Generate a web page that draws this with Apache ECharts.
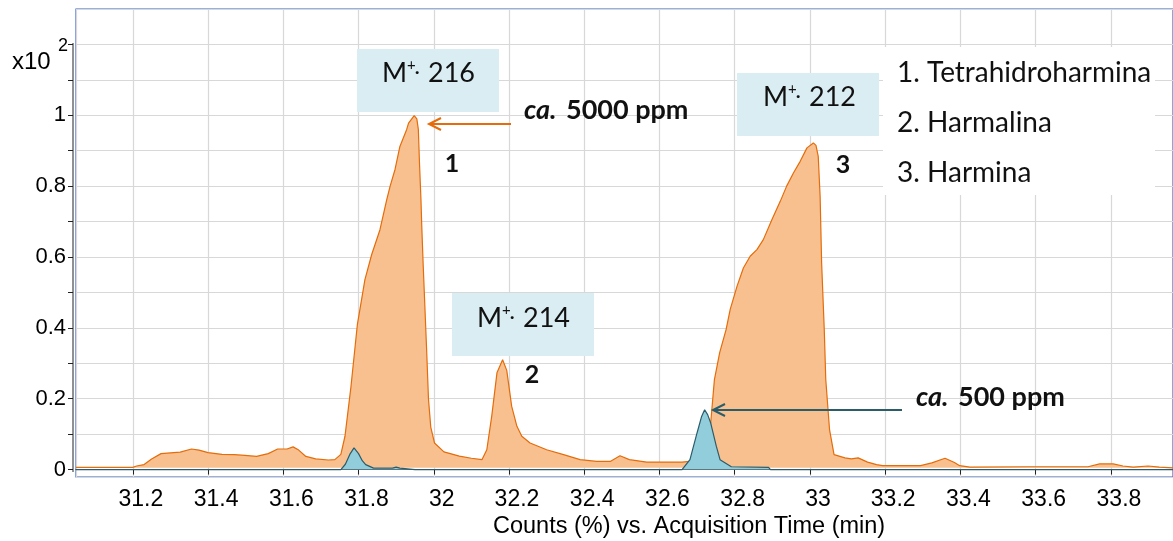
<!DOCTYPE html>
<html><head><meta charset="utf-8">
<script src="https://cdn.jsdelivr.net/npm/echarts@6/dist/echarts.min.js"></script>
<style>html,body{margin:0;padding:0;background:#fff}#c{width:1173px;height:541px}</style>
</head><body><div id="c"></div>
<script>
// ---- data (Counts x10^2 vs acquisition time, min) ----
const orangeTime = [31.049,31.20,31.21,31.23,31.25,31.275,31.30,31.326,31.356,31.376,31.40,31.437,31.47,31.498,31.529,31.56,31.585,31.61,31.626,31.641,31.66,31.686,31.72,31.737,31.753,31.764,31.78,31.797,31.817,31.835,31.857,31.875,31.884,31.897,31.91,31.928,31.933,31.948,31.955,31.959,31.962,31.966,31.968,31.972,31.981,31.986,31.992,32.002,32.027,32.068,32.10,32.128,32.141,32.154,32.168,32.183,32.194,32.207,32.221,32.234,32.256,32.30,32.345,32.389,32.433,32.469,32.495,32.52,32.566,32.60,32.66,32.70,32.72,32.73,32.736,32.746,32.76,32.777,32.788,32.806,32.823,32.841,32.859,32.876,32.899,32.921,32.938,32.956,32.974,32.992,33.009,33.016,33.022,33.027,33.031,33.038,33.042,33.052,33.064,33.093,33.11,33.128,33.153,33.177,33.193,33.294,33.324,33.359,33.384,33.398,33.425,33.584,33.739,33.77,33.806,33.832,33.859,33.899,33.929,33.965];
const orangeValue = [0.006,0.006,0.010,0.014,0.030,0.045,0.047,0.049,0.058,0.055,0.048,0.043,0.042,0.040,0.037,0.045,0.058,0.058,0.064,0.055,0.037,0.030,0.027,0.028,0.043,0.094,0.235,0.41,0.536,0.607,0.677,0.762,0.80,0.847,0.912,0.96,0.978,0.999,0.99,0.96,0.866,0.76,0.69,0.574,0.339,0.198,0.12,0.075,0.050,0.038,0.032,0.028,0.056,0.150,0.273,0.31,0.28,0.179,0.122,0.094,0.075,0.056,0.042,0.028,0.023,0.023,0.039,0.028,0.021,0.021,0.021,0.025,0.035,0.06,0.13,0.254,0.33,0.395,0.452,0.517,0.569,0.602,0.621,0.649,0.706,0.757,0.80,0.837,0.870,0.908,0.922,0.915,0.884,0.771,0.583,0.395,0.254,0.113,0.042,0.033,0.030,0.033,0.021,0.014,0.011,0.011,0.019,0.032,0.020,0.011,0.007,0.008,0.008,0.016,0.016,0.010,0.007,0.010,0.007,0.005];
const blueTime = [31.049,31.753,31.765,31.778,31.788,31.80,31.81,31.819,31.84,31.89,31.90,31.91,31.95,32.66,32.681,32.70,32.712,32.72,32.728,32.736,32.751,32.761,32.791,32.89,32.895,33.965];
const blueValue = [0,0,0.015,0.045,0.061,0.045,0.025,0.014,0.004,0.004,0.007,0.004,0,0,0.028,0.104,0.15,0.169,0.155,0.132,0.066,0.028,0.008,0.006,0,0];
const yTickLabels = [0,0.2,0.4,0.6,0.8,1];
const xTickLabels = [31.2,31.4,31.6,31.8,32,32.2,32.4,32.6,32.8,33,33.2,33.4,33.6,33.8];
const compounds = ['1. Tetrahidroharmina','2. Harmalina','3. Harmina'];
const ions = ['216','214','212'];
const peakNumbers = ['1','2','3'];
const conc = ['5000 ppm','500 ppm'];

const pairs = (t, v) => t.map((x, i) => [x, v[i]]);
const near = (v, arr) => arr.some(a => Math.abs(a - v) < 1e-6);
const fmt = v => String(parseFloat(v.toFixed(1)));

const chart = echarts.init(document.getElementById('c'), null, {renderer: 'canvas'});
const CAL = 'Lato';
const ARIAL = 'Liberation Sans';
const ORANGE = '#e46c0a', TEAL = '#2b5c6a', BOX = '#daedf3';

function ionLabel(x, y, num) {
  return [
    {type: 'text', z: 20, style: {text: 'M', x: x, y: y, font: '27px ' + CAL, fill: '#111', align: 'left', verticalAlign: 'middle'}},
    {type: 'text', z: 20, style: {text: '+', x: x + 25, y: y - 8, font: '15px ' + CAL, fill: '#111', align: 'left', verticalAlign: 'middle'}},
    {type: 'text', z: 20, style: {text: '·', x: x + 33, y: y - 1, font: 'bold 16px ' + CAL, fill: '#111', align: 'left', verticalAlign: 'middle'}},
    {type: 'text', z: 20, style: {text: num, x: x + 46, y: y, font: '27px ' + CAL, fill: '#111', align: 'left', verticalAlign: 'middle'}}
  ];
}
function arrow(x1, x2, y, color) {
  return [
    {type: 'line', z: 20, shape: {x1: x1, y1: y, x2: x2 + 1, y2: y}, style: {stroke: color, lineWidth: 2}},
    {type: 'polyline', z: 20, shape: {points: [[x2 + 12, y - 6], [x2, y], [x2 + 12, y + 6]]}, style: {stroke: color, lineWidth: 2, fill: null}}
  ];
}

const graphics = [].concat(
  // y-axis line (only up to 1.2)
  [{type: 'line', z: 5, shape: {x1: 73, y1: 43, x2: 73, y2: 472}, style: {stroke: '#222', lineWidth: 1}}],
  // x10^2
  [{type: 'text', z: 20, style: {text: 'x10', x: 12, y: 62, font: '24px ' + ARIAL, fill: '#000', align: 'left', verticalAlign: 'middle'}},
   {type: 'text', z: 20, style: {text: '2', x: 58, y: 46, font: '18px ' + ARIAL, fill: '#000', align: 'left', verticalAlign: 'middle'}}],
  // legend box
  [{type: 'rect', z: 10, shape: {x: 883, y: 47, width: 272, height: 148}, style: {fill: '#fff'}}],
  compounds.map((c, i) => ({type: 'text', z: 20, style: {text: c, x: 897, y: 73 + i * 50, font: '28px ' + CAL, fill: '#111', align: 'left', verticalAlign: 'middle'}})),
  // ion boxes
  [{type: 'rect', z: 10, shape: {x: 357, y: 49, width: 142, height: 63}, style: {fill: BOX}},
   {type: 'rect', z: 10, shape: {x: 452, y: 293, width: 142, height: 63}, style: {fill: BOX}},
   {type: 'rect', z: 10, shape: {x: 737, y: 73, width: 142, height: 63}, style: {fill: BOX}}],
  ionLabel(382, 73, ions[0]),
  ionLabel(477, 318, ions[1]),
  ionLabel(763, 97, ions[2]),
  // peak numbers
  [{type: 'text', z: 20, style: {text: peakNumbers[0], x: 452, y: 164, font: 'bold 25px ' + CAL, fill: '#111', align: 'center', verticalAlign: 'middle'}},
   {type: 'text', z: 20, style: {text: peakNumbers[1], x: 532, y: 375, font: 'bold 25px ' + CAL, fill: '#111', align: 'center', verticalAlign: 'middle'}},
   {type: 'text', z: 20, style: {text: peakNumbers[2], x: 843, y: 165, font: 'bold 25px ' + CAL, fill: '#111', align: 'center', verticalAlign: 'middle'}}],
  // concentrations
  [{type: 'text', z: 20, style: {text: 'ca.', x: 524, y: 110, font: 'italic bold 27px ' + CAL, fill: '#111', align: 'left', verticalAlign: 'middle'}},
   {type: 'text', z: 20, style: {text: conc[0], x: 566, y: 110, font: 'bold 27px ' + CAL, fill: '#111', align: 'left', verticalAlign: 'middle'}},
   {type: 'text', z: 20, style: {text: 'ca.', x: 916, y: 397, font: 'italic bold 27px ' + CAL, fill: '#111', align: 'left', verticalAlign: 'middle'}},
   {type: 'text', z: 20, style: {text: conc[1], x: 958, y: 397, font: 'bold 27px ' + CAL, fill: '#111', align: 'left', verticalAlign: 'middle'}}],
  arrow(511, 429, 124, ORANGE),
  arrow(902, 713, 410, TEAL),
  // x-axis title
  [{type: 'text', z: 20, style: {text: 'Counts (%) vs. Acquisition Time (min)', x: 493, y: 527, font: '23.5px ' + ARIAL, fill: '#000', align: 'left', verticalAlign: 'middle'}}]
);

chart.setOption({
  animation: false,
  backgroundColor: '#fff',
  grid: {left: 76, right: 0, top: 9, bottom: 64, show: true, borderColor: '#2f63c9', borderWidth: 1.2, backgroundColor: 'transparent'},
  xAxis: {
    type: 'value', min: 31.049, max: 33.965, minInterval: 0.2, maxInterval: 0.2, offset: 2,
    axisLine: {show: true, lineStyle: {color: '#222', width: 1}},
    axisTick: {show: true, length: 5, lineStyle: {color: '#222'}},
    axisLabel: {fontFamily: ARIAL, fontSize: 23, color: '#000', margin: 9, padding: [0, 0, 0, 16],
      showMinLabel: false, showMaxLabel: false,
      formatter: v => near(v, xTickLabels) ? fmt(v) : ''},
    splitLine: {show: true, lineStyle: {color: '#d8d8d8', width: 1.2}}
  },
  yAxis: {
    type: 'value', min: -0.021, max: 1.3, minInterval: 0.1, maxInterval: 0.1, offset: 3,
    axisLine: {show: false},
    axisTick: {show: true, length: 5, lineStyle: {color: '#222'}},
    axisLabel: {fontFamily: ARIAL, fontSize: 22, color: '#000', margin: 7,
      showMinLabel: false, showMaxLabel: false,
      formatter: v => near(v, yTickLabels) ? fmt(v) : ''},
    splitLine: {show: true, lineStyle: {color: '#d8d8d8', width: 1.2}}
  },
  series: [
    {type: 'line', name: 'TIC', data: pairs(orangeTime, orangeValue), showSymbol: false, z: 2,
      lineStyle: {color: ORANGE, width: 1.2}, itemStyle: {color: ORANGE},
      areaStyle: {color: '#f9c08f', opacity: 1, origin: 0.005}},
    {type: 'line', name: 'SIM', data: pairs(blueTime, blueValue), showSymbol: false, z: 3,
      lineStyle: {color: TEAL, width: 1.2}, itemStyle: {color: TEAL},
      areaStyle: {color: '#92cddc', opacity: 1, origin: 0}}
  ],
  graphic: graphics
});
</script></body></html>
